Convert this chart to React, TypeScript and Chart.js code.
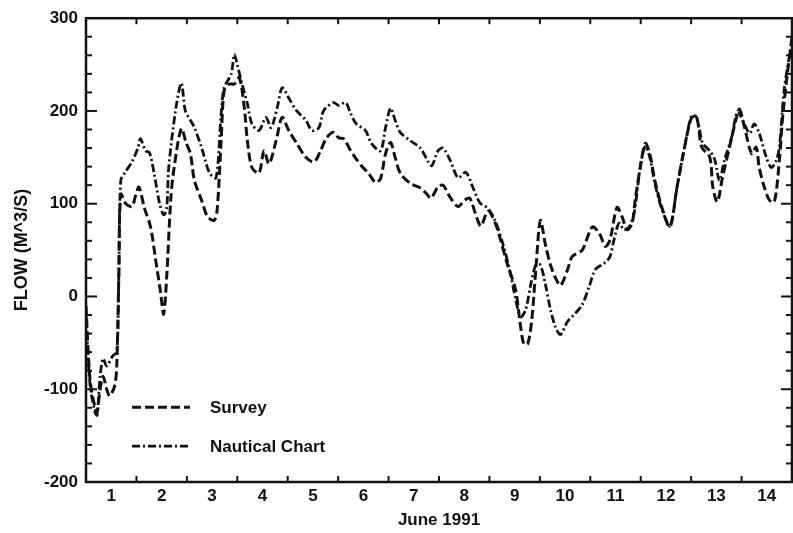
import React, { useEffect, useRef } from "react";
import { Chart, registerables } from "chart.js";

Chart.register(...registerables);

// Day labels are centred on each day; tick marks sit on day boundaries
const dayLabels = ["1", "2", "3", "4", "5", "6", "7", "8", "9", "10", "11", "12", "13", "14"];
const dayLabelPositions = [0.5, 1.5, 2.5, 3.5, 4.5, 5.5, 6.5, 7.5, 8.5, 9.5, 10.5, 11.5, 12.5, 13.5];
const dayBoundaries = [1, 2, 3, 4, 5, 6, 7, 8, 9, 10, 11, 12, 13];
const flowTickValues = [-200, -100, 0, 100, 200, 300];

// Survey (dashed)
const surveyDay = [
  0, 0.08, 0.18, 0.22, 0.28, 0.34, 0.41, 0.47, 0.57, 0.61, 0.65, 0.69, 0.79, 0.91, 0.99,
  1.05, 1.16, 1.28, 1.38, 1.48, 1.54, 1.6, 1.68, 1.74, 1.89, 1.99, 2.07, 2.15, 2.29, 2.41,
  2.54, 2.6, 2.68, 2.74, 2.84, 2.94, 3.04, 3.14, 3.2, 3.29, 3.43, 3.53, 3.63, 3.77, 3.89,
  4.02, 4.18, 4.36, 4.52, 4.65, 4.77, 4.91, 5.01, 5.11, 5.25, 5.35, 5.46, 5.6, 5.74, 5.84,
  5.94, 6.04, 6.13, 6.23, 6.43, 6.63, 6.75, 6.84, 6.98, 7.08, 7.22, 7.38, 7.51, 7.61, 7.73,
  7.83, 7.97, 8.11, 8.22, 8.36, 8.52, 8.6, 8.68, 8.76, 8.84, 8.92, 9.01, 9.11, 9.21, 9.31,
  9.41, 9.55, 9.64, 9.84, 10.04, 10.18, 10.3, 10.39, 10.53, 10.63, 10.73, 10.83, 10.89, 10.99, 11.09,
  11.18, 11.28, 11.42, 11.58, 11.72, 11.87, 12.01, 12.11, 12.21, 12.37, 12.43, 12.52, 12.62, 12.76, 12.9,
  12.96, 13.06, 13.2, 13.29, 13.35, 13.45, 13.55, 13.65, 13.75, 13.81, 13.89, 14.0,
];
const surveyFlow = [
  -10, -90, -120, -125, -100, -86, -100, -107, -96, -75, 20, 110, 100, 97, 110,
  118, 95, 75, 40, 4, -19, 21, 104, 136, 181, 165, 154, 125, 104, 86,
  82, 93, 168, 222, 229, 229, 236, 203, 168, 139, 133, 157, 143, 168, 193,
  179, 165, 150, 145, 157, 171, 177, 171, 170, 157, 149, 141, 133, 123, 127,
  154, 166, 150, 133, 122, 117, 111, 106, 118, 120, 107, 97, 104, 106, 88,
  76, 92, 80, 61, 34, 7, -25, -51, -51, -25, 29, 82, 56, 34, 20,
  12, 29, 43, 50, 75, 68, 54, 61, 96, 86, 72, 79, 104, 139, 165,
  154, 125, 96, 75, 118, 161, 193, 193, 161, 150, 118, 102, 128, 161, 193,
  202, 182, 154, 161, 139, 118, 104, 102, 147, 190, 232, 280,
];

// Nautical Chart (dash-dot)
const chartDay = [
  0, 0.08, 0.18, 0.22, 0.28, 0.34, 0.41, 0.53, 0.61, 0.65, 0.69, 0.79, 0.91, 1.03, 1.08,
  1.18, 1.26, 1.36, 1.46, 1.54, 1.6, 1.64, 1.78, 1.89, 1.97, 2.07, 2.15, 2.29, 2.45, 2.58,
  2.68, 2.74, 2.88, 2.94, 3.0, 3.08, 3.2, 3.29, 3.43, 3.57, 3.67, 3.79, 3.89, 4.02, 4.18,
  4.36, 4.48, 4.62, 4.71, 4.91, 5.01, 5.15, 5.25, 5.36, 5.54, 5.66, 5.84, 5.94, 6.04, 6.13,
  6.23, 6.43, 6.63, 6.79, 6.86, 6.98, 7.08, 7.22, 7.38, 7.53, 7.67, 7.81, 7.97, 8.11, 8.26,
  8.4, 8.52, 8.62, 8.72, 8.82, 8.92, 9.01, 9.11, 9.21, 9.31, 9.41, 9.55, 9.69, 9.84, 9.98,
  10.1, 10.28, 10.39, 10.47, 10.57, 10.67, 10.77, 10.87, 10.99, 11.09, 11.18, 11.28, 11.42, 11.58, 11.72,
  11.87, 12.01, 12.11, 12.23, 12.37, 12.47, 12.56, 12.66, 12.8, 12.92, 13.02, 13.16, 13.25, 13.35, 13.49,
  13.59, 13.69, 13.75, 13.85, 14.0,
];
const chartFlow = [
  -20, -95, -125, -128, -86, -67, -75, -64, -60, 20, 125, 135, 145, 160, 170,
  157, 155, 130, 100, 88, 95, 139, 202, 230, 200, 190, 182, 161, 133, 128,
  197, 225, 240, 261, 250, 232, 208, 186, 179, 193, 182, 203, 225, 214, 200,
  190, 179, 182, 200, 209, 206, 209, 197, 186, 179, 165, 157, 182, 203, 190,
  177, 168, 160, 145, 141, 157, 160, 147, 128, 134, 118, 101, 95, 82, 58,
  29, -3, -22, -14, 13, 34, 34, 13, -14, -33, -41, -27, -19, -9, 11,
  29, 36, 43, 61, 79, 72, 75, 90, 139, 162, 150, 122, 94, 76, 118,
  161, 195, 193, 165, 157, 147, 125, 147, 171, 200, 190, 176, 186, 176, 150,
  139, 147, 161, 225, 275,
];

const FONT = "'Liberation Sans', Arial, Helvetica, sans-serif";
const INK = "#111111";

const framePlugin = {
  id: "frameAndLegend",
  afterDraw(chart: any) {
    const { ctx, chartArea: a, scales } = chart;
    const x = scales.x;
    const y = scales.y;
    const line = (x1: number, y1: number, x2: number, y2: number) => {
      ctx.beginPath();
      ctx.moveTo(x1, y1);
      ctx.lineTo(x2, y2);
      ctx.stroke();
    };
    ctx.save();
    ctx.strokeStyle = INK;
    ctx.setLineDash([]);
    ctx.lineWidth = 2.5;
    ctx.strokeRect(a.left, a.top, a.right - a.left, a.bottom - a.top);
    ctx.lineWidth = 2;
    for (const d of dayBoundaries) {
      const px = x.getPixelForValue(d);
      line(px, a.bottom, px, a.bottom - 6);
      line(px, a.top, px, a.top + 6);
    }
    for (let v = y.min + 20; v < y.max; v += 20) {
      const py = y.getPixelForValue(v);
      const len = v % 100 === 0 ? 11 : 6;
      line(a.left, py, a.left + len, py);
      line(a.right, py, a.right - len, py);
    }
    // legend
    const items = chart.data.datasets;
    const rows = [a.top + 389, a.top + 428];
    items.forEach((ds: any, i: number) => {
      const ly = rows[i];
      ctx.save();
      ctx.lineWidth = ds.borderWidth;
      ctx.setLineDash(ds.borderDash);
      ctx.strokeStyle = ds.borderColor;
      line(a.left + 46, ly, a.left + 104, ly);
      ctx.restore();
      ctx.fillStyle = INK;
      ctx.font = `bold 17px ${FONT}`;
      ctx.textAlign = "left";
      ctx.textBaseline = "middle";
      ctx.fillText(ds.label, a.left + 124, ly + 1);
    });
    ctx.restore();
  },
};

export default function App() {
  const canvasRef = useRef<HTMLCanvasElement | null>(null);

  useEffect(() => {
    const canvas = canvasRef.current;
    if (!canvas) return;
    const chart = new Chart(canvas, {
      type: "line",
      data: {
        datasets: [
          {
            label: "Survey",
            data: surveyDay.map((d, i) => ({ x: d, y: surveyFlow[i] })),
            borderColor: INK,
            borderWidth: 3,
            borderDash: [9, 4],
            pointRadius: 0,
            tension: 0.3,
            fill: false,
          },
          {
            label: "Nautical Chart",
            data: chartDay.map((d, i) => ({ x: d, y: chartFlow[i] })),
            borderColor: INK,
            borderWidth: 2.8,
            borderDash: [8, 3, 2, 3],
            pointRadius: 0,
            tension: 0.3,
            fill: false,
          },
        ],
      },
      options: {
        animation: false,
        responsive: false,
        devicePixelRatio: 1,
        layout: { padding: { top: 15, right: 1, left: 0, bottom: 0 } },
        plugins: {
          legend: { display: false },
          tooltip: { enabled: false },
        },
        scales: {
          x: {
            type: "linear",
            min: 0,
            max: 14,
            grid: { display: false, drawTicks: false },
            border: { display: false },
            afterBuildTicks: (scale: any) => {
              scale.ticks = dayLabelPositions.map((v) => ({ value: v }));
            },
            afterFit: (scale: any) => {
              scale.height = 51;
            },
            ticks: {
              autoSkip: false,
              maxRotation: 0,
              padding: 4,
              color: INK,
              font: { family: FONT, size: 17, weight: "bold" },
              callback: (_v: any, i: number) => dayLabels[i],
            },
            title: {
              display: true,
              text: "June 1991",
              color: INK,
              font: { family: FONT, size: 17, weight: "bold" },
              padding: { top: 0, bottom: 2 },
            },
          },
          y: {
            type: "linear",
            min: -200,
            max: 300,
            grid: { display: false, drawTicks: false },
            border: { display: false },
            afterBuildTicks: (scale: any) => {
              scale.ticks = flowTickValues.map((v) => ({ value: v }));
            },
            afterFit: (scale: any) => {
              scale.width = 86;
            },
            ticks: {
              padding: 8,
              color: INK,
              font: { family: FONT, size: 17, weight: "bold" },
            },
            title: {
              display: true,
              text: "FLOW (M^3/S)",
              color: INK,
              font: { family: FONT, size: 18, weight: "bold" },
              padding: { top: 11, bottom: 0 },
            },
          },
        },
      },
      plugins: [framePlugin],
    } as any);
    return () => chart.destroy();
  }, []);

  return (
    <div style={{ position: "absolute", left: 0, top: 0, width: 793, height: 533, background: "#fff" }}>
      <canvas ref={canvasRef} width={793} height={533} style={{ display: "block" }} />
    </div>
  );
}
